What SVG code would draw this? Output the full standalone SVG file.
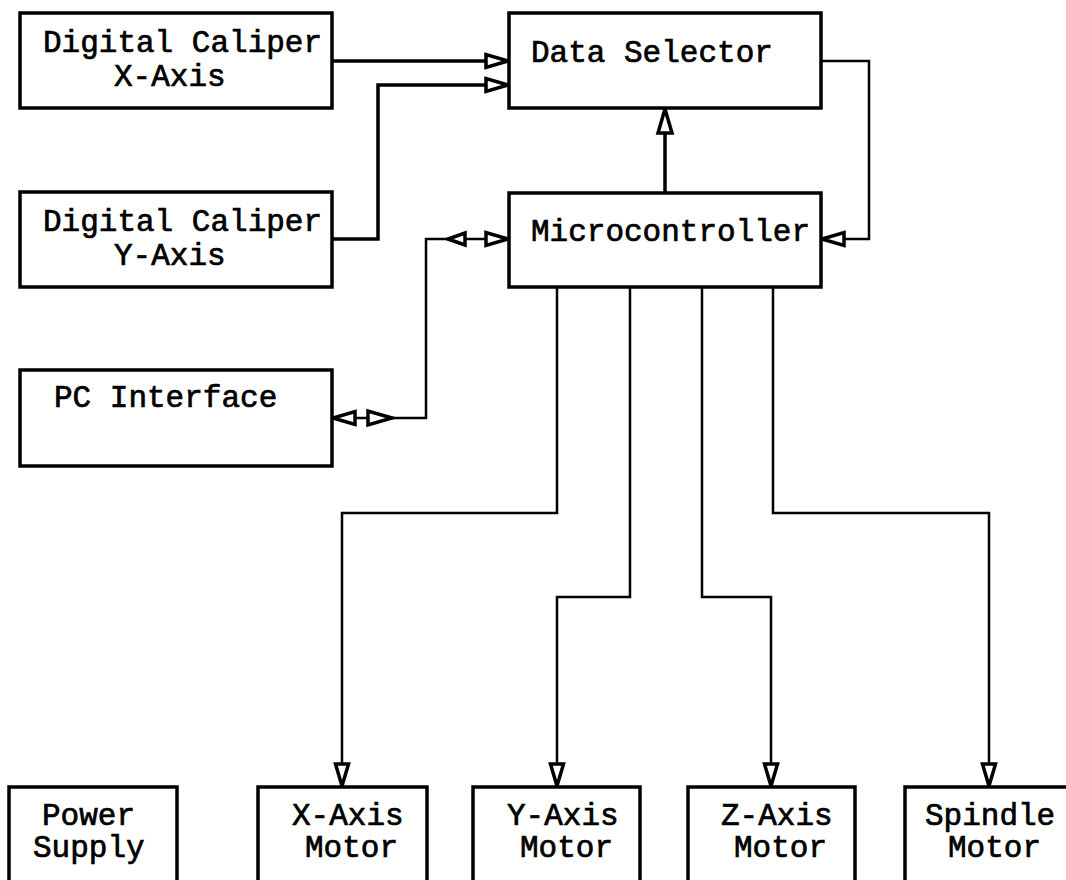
<svg xmlns="http://www.w3.org/2000/svg" xmlns:xlink="http://www.w3.org/1999/xlink" width="1066" height="880" viewBox="0 0 1066 880">
<defs>
<style>
.box{fill:#fff;stroke:#000;stroke-width:3.5;stroke-linejoin:miter}
.t{font-family:"Liberation Mono","DejaVu Sans Mono",monospace;font-size:31px;fill:#000;stroke:#000;stroke-width:0.7}
.w{fill:none;stroke:#000;stroke-width:3.5;stroke-linejoin:miter}
.n{fill:none;stroke:#000;stroke-width:2.5;stroke-linejoin:miter}
.ah{fill:#fff;stroke:#000;stroke-width:3.5;stroke-linejoin:miter}
</style>
<path id="a22" d="M0,0 L-22,-6.5 L-22,6.5 Z"/>
<path id="a17" d="M0,0 L-17,-6 L-17,6 Z"/>
<path id="a24" d="M0,0 L-24,-7 L-24,7 Z"/>
</defs>
<rect width="1066" height="880" fill="#fff"/>
<g id="connectors">
<path class="w" d="M332,61 H490"/>
<path class="w" d="M332,239 H378 V85 H490"/>
<path class="w" d="M665,193 V128"/>
<path class="n" d="M821,61 H869 V239 H840"/>
<path class="n" d="M490,239 H426 V418 H350"/>
<path class="n" d="M557,287 V513 H342 V768"/>
<path class="n" d="M630,287 V597 H557 V768"/>
<path class="n" d="M702,287 V597 H771 V768"/>
<path class="n" d="M773,287 V513 H989 V768"/>
<use href="#a22" class="ah" transform="translate(508,61)"/>
<use href="#a22" class="ah" transform="translate(508,85)"/>
<use href="#a24" class="ah" transform="translate(665,109) rotate(-90)"/>
<use href="#a22" class="ah" transform="translate(822,239) rotate(180)"/>
<use href="#a22" class="ah" transform="translate(508,239)"/>
<use href="#a17" class="ah" transform="translate(448,239) rotate(180)"/>
<use href="#a22" class="ah" transform="translate(333,418) rotate(180)"/>
<use href="#a24" class="ah" transform="translate(392,418)"/>
<use href="#a22" class="ah" transform="translate(342,786) rotate(90)"/>
<use href="#a22" class="ah" transform="translate(557,786) rotate(90)"/>
<use href="#a22" class="ah" transform="translate(771,786) rotate(90)"/>
<use href="#a22" class="ah" transform="translate(989,786) rotate(90)"/>
</g>
<g id="caliper-x">
<rect class="box" x="20" y="13" width="312" height="95"/>
<text class="t" x="43" y="52">Digital Caliper</text>
<text class="t" x="114" y="86">X-Axis</text>
</g>
<g id="caliper-y">
<rect class="box" x="20" y="192" width="312" height="95"/>
<text class="t" x="43" y="231">Digital Caliper</text>
<text class="t" x="114" y="265">Y-Axis</text>
</g>
<g id="pc-interface">
<rect class="box" x="20" y="370" width="312" height="96"/>
<text class="t" x="54" y="407">PC Interface</text>
</g>
<g id="data-selector">
<rect class="box" x="509" y="13" width="312" height="95"/>
<text class="t" x="531" y="62">Data Selector</text>
</g>
<g id="microcontroller">
<rect class="box" x="509" y="193" width="312" height="94"/>
<text class="t" x="531" y="241">Microcontroller</text>
</g>
<g id="power-supply">
<rect class="box" x="9" y="787" width="168" height="110"/>
<text class="t" x="42" y="825">Power</text>
<text class="t" x="33" y="857">Supply</text>
</g>
<g id="x-motor">
<rect class="box" x="258" y="787" width="169" height="110"/>
<text class="t" x="292" y="825">X-Axis</text>
<text class="t" x="305" y="857">Motor</text>
</g>
<g id="y-motor">
<rect class="box" x="473" y="787" width="167" height="110"/>
<text class="t" x="507" y="825">Y-Axis</text>
<text class="t" x="520" y="857">Motor</text>
</g>
<g id="z-motor">
<rect class="box" x="688" y="787" width="167" height="110"/>
<text class="t" x="721" y="825">Z-Axis</text>
<text class="t" x="734" y="857">Motor</text>
</g>
<g id="spindle-motor">
<rect class="box" x="905" y="787" width="168" height="110"/>
<text class="t" x="925" y="825">Spindle</text>
<text class="t" x="948" y="857">Motor</text>
</g>
</svg>
